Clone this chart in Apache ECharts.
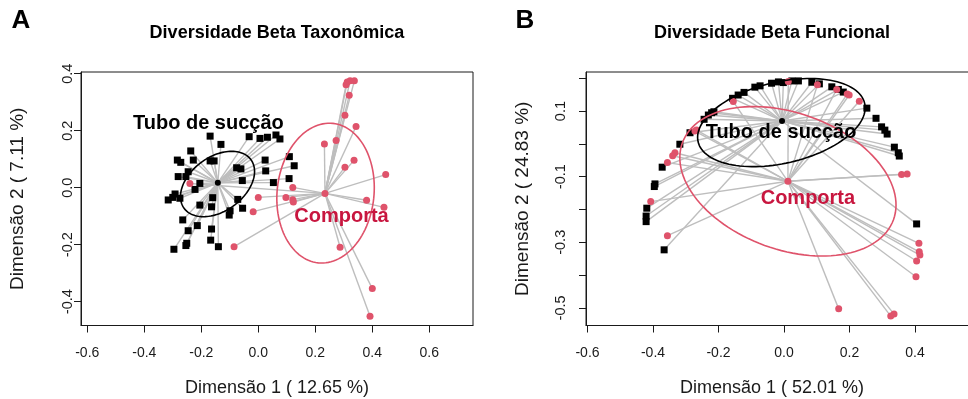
<!DOCTYPE html>
<html>
<head>
<meta charset="utf-8">
<script src="https://cdn.jsdelivr.net/npm/echarts@6/dist/echarts.min.js"></script>
<style>
  html, body { margin: 0; padding: 0; background: #fff; }
  #chart { width: 968px; height: 399px; }
</style>
</head>
<body>
<div id="chart"></div>
<script>
// ---- Painel A: diversidade beta taxonômica (PCoA) ----
const tuboA = [
  [-0.169, 0.181], [-0.131, 0.152], [-0.032, 0.179], [0.006, 0.173], [0.032, 0.177], [0.062, 0.185], [0.076, 0.171],
  [-0.237, 0.129], [-0.284, 0.097], [-0.272, 0.089], [-0.228, 0.097], [-0.169, 0.094], [-0.155, 0.094],
  [-0.246, 0.056], [-0.254, 0.039], [-0.281, 0.039], [-0.205, 0.015], [-0.222, -0.006],
  [-0.292, -0.022], [-0.316, -0.043], [-0.300, -0.034], [-0.275, -0.037], [-0.160, -0.035], [-0.205, -0.061], [-0.164, -0.067],
  [-0.265, -0.113], [-0.214, -0.133], [-0.246, -0.151], [-0.164, -0.145], [-0.251, -0.195], [-0.254, -0.203],
  [-0.296, -0.216], [-0.167, -0.184], [-0.140, -0.207],
  [-0.055, -0.072], [-0.072, -0.041], [-0.102, -0.096], [-0.099, -0.081],
  [-0.076, 0.070], [-0.061, 0.066], [-0.056, 0.025],
  [0.024, 0.097], [0.026, 0.059], [0.053, 0.018], [0.109, 0.109], [0.126, 0.077], [0.108, 0.032]
];
const comportaA = [
  [0.312, 0.371], [0.322, 0.375], [0.337, 0.375], [0.308, 0.361], [0.319, 0.324], [0.304, 0.254], [0.343, 0.215],
  [0.232, 0.153], [0.273, 0.166], [0.336, 0.096], [0.304, 0.072], [0.447, 0.046],
  [0.121, 0.001], [0.097, -0.034], [0.121, -0.042], [0.123, -0.050],
  [0.380, -0.044], [0.441, -0.069], [0.287, -0.209], [0.400, -0.354], [0.392, -0.451],
  [-0.240, 0.015], [0.000, -0.034], [-0.018, -0.084], [-0.085, -0.207]
];
const centroTuboA = [-0.142, 0.017];
const centroComportaA = [0.234, -0.020];
// elipses: [cx, cy, semi-eixo maior, semi-eixo menor, ângulo em graus]
const elipseTuboA = [-0.143, 0.013, 0.145, 0.095, 36];
const elipseComportaA = [0.236, -0.019, 0.246, 0.170, 84];
const rotulosA = [[-0.175, 0.226, 'Tubo de sucção'], [0.292, -0.101, 'Comporta']];

// ---- Painel B: diversidade beta funcional ----
const tuboB = [
  [-0.287, 0.034], [-0.244, 0.075], [-0.231, 0.088], [-0.221, 0.095], [-0.214, 0.098],
  [-0.157, 0.139], [-0.140, 0.149], [-0.122, 0.157], [-0.089, 0.173], [-0.073, 0.177],
  [-0.038, 0.185], [-0.017, 0.189], [-0.002, 0.187], [0.024, 0.192], [0.044, 0.192],
  [0.085, 0.188], [0.108, 0.183], [0.146, 0.174], [0.166, 0.166], [0.181, 0.158],
  [0.253, 0.109], [0.281, 0.078], [0.298, 0.052], [0.308, 0.042], [0.315, 0.030],
  [0.337, -0.010], [0.349, -0.027], [0.352, -0.037],
  [-0.318, -0.001], [-0.372, -0.071], [-0.396, -0.130], [-0.394, -0.122],
  [-0.419, -0.196], [-0.421, -0.220], [-0.421, -0.237], [-0.366, -0.323], [0.405, -0.244]
];
const comportaB = [
  [0.013, 0.190], [0.102, 0.180], [0.161, 0.166], [0.193, 0.152], [0.199, 0.149], [0.230, 0.130],
  [-0.155, 0.129], [-0.272, 0.039], [-0.267, 0.042], [-0.333, -0.027], [-0.340, -0.036], [-0.356, -0.057],
  [-0.407, -0.176], [-0.356, -0.280], [0.359, -0.093], [0.376, -0.092],
  [0.412, -0.303], [0.413, -0.329], [0.415, -0.339], [0.405, -0.357], [0.403, -0.405],
  [0.167, -0.503], [0.326, -0.525], [0.336, -0.519]
];
const centroTuboB = [-0.006, 0.070];
const centroComportaB = [0.012, -0.114];
const elipseTuboB = [-0.008, 0.065, 0.261, 0.124, 13];
const elipseComportaB = [0.012, -0.114, 0.343, 0.208, -20];
const rotulosB = [[-0.009, 0.036, 'Tubo de sucção'], [0.073, -0.166, 'Comporta']];

// ---- eixos ----
const xTicksA = [-0.6, -0.4, -0.2, 0.0, 0.2, 0.4, 0.6];
const yTicksA = [-0.4, -0.2, 0.0, 0.2, 0.4];
const xTicksB = [-0.6, -0.4, -0.2, 0.0, 0.2, 0.4];
const yTicksB = [-0.5, -0.4, -0.3, -0.2, -0.1, 0.0, 0.1, 0.2];
const yLabelsB = [-0.5, -0.3, -0.1, 0.1];

const FONT = "'Liberation Sans', Arial, Helvetica, sans-serif";
const RED = '#DF536B';
const RED_TEXT = '#C8163F';
const GRAY = '#BEBEBE';
const INK = '#1a1a1a';

const fmt = v => v.toFixed(1);

function xAxisCfg(grid, min, max, ticks, name, shift) {
  return {
    gridIndex: grid, type: 'value', min: min, max: max,
    name: name, nameLocation: 'middle', nameGap: 54,
    nameTextStyle: { fontFamily: FONT, fontSize: 18, color: INK, padding: [0, shift, 0, 0] },
    axisLine: { show: true, onZero: false, lineStyle: { color: INK, width: 1 } },
    axisTick: { show: true, length: 7, customValues: ticks, lineStyle: { color: INK } },
    axisLabel: { customValues: ticks, formatter: fmt, margin: 21, fontFamily: FONT, fontSize: 14, color: INK },
    splitLine: { show: false }
  };
}

function yAxisCfg(grid, min, max, ticks, labels, name, margin) {
  return {
    gridIndex: grid, type: 'value', min: min, max: max,
    name: name, nameLocation: 'middle', nameGap: 54, nameRotate: 90,
    nameTextStyle: { fontFamily: FONT, fontSize: 19, color: INK },
    axisLine: { show: true, onZero: false, lineStyle: { color: INK, width: 1 } },
    axisTick: { show: true, length: 7, customValues: ticks, lineStyle: { color: INK } },
    axisLabel: { customValues: labels, formatter: fmt, rotate: 90, margin: margin, fontFamily: FONT, fontSize: 14.5, color: INK },
    splitLine: { show: false }
  };
}

function segmentos(pontos, centro) {
  return pontos.map(p => ({ coords: [p, centro] }));
}

function renderElipse(params, api) {
  const c = api.coord([api.value(0), api.value(1)]);
  const rx = api.size([api.value(2), 0])[0];
  const ry = api.size([0, api.value(3)])[1];
  const th = api.value(4) * Math.PI / 180;
  const pts = [];
  for (let i = 0; i <= 120; i++) {
    const t = i / 120 * Math.PI * 2;
    const ex = rx * Math.cos(t), ey = ry * Math.sin(t);
    pts.push([c[0] + ex * Math.cos(th) - ey * Math.sin(th), c[1] - (ex * Math.sin(th) + ey * Math.cos(th))]);
  }
  return { type: 'polyline', shape: { points: pts }, style: { fill: null, stroke: api.visual('color'), lineWidth: 1.6 } };
}

function renderRotulo(params, api) {
  const c = api.coord([api.value(0), api.value(1)]);
  const d = params.dataIndex;
  return {
    type: 'text', x: c[0], y: c[1],
    style: {
      text: d === 0 ? 'Tubo de sucção' : 'Comporta',
      align: 'center', verticalAlign: 'middle',
      font: "bold 20px " + FONT,
      fill: d === 0 ? '#000' : RED_TEXT
    }
  };
}

function painel(g, tubo, comp, cTubo, cComp, eTubo, eComp, rotulos) {
  return [
    {
      type: 'lines', coordinateSystem: 'cartesian2d', xAxisIndex: g, yAxisIndex: g,
      data: segmentos(tubo, cTubo).concat(segmentos(comp, cComp)),
      lineStyle: { color: GRAY, width: 1.4, opacity: 1 }, z: 1, silent: true
    },
    {
      type: 'scatter', xAxisIndex: g, yAxisIndex: g, data: tubo,
      symbol: 'rect', symbolSize: 7, itemStyle: { color: '#000', opacity: 1 }, z: 3, silent: true
    },
    {
      type: 'scatter', xAxisIndex: g, yAxisIndex: g, data: comp,
      symbol: 'circle', symbolSize: 7, itemStyle: { color: RED, opacity: 1 }, z: 3, silent: true
    },
    {
      type: 'scatter', xAxisIndex: g, yAxisIndex: g, data: [cTubo],
      symbol: 'circle', symbolSize: 6, itemStyle: { color: '#000', opacity: 1 }, z: 4, silent: true
    },
    {
      type: 'scatter', xAxisIndex: g, yAxisIndex: g, data: [cComp],
      symbol: 'circle', symbolSize: 7, itemStyle: { color: RED, opacity: 1 }, z: 4, silent: true
    },
    {
      type: 'custom', xAxisIndex: g, yAxisIndex: g, renderItem: renderElipse,
      data: [eTubo], itemStyle: { color: '#000' }, z: 5, silent: true
    },
    {
      type: 'custom', xAxisIndex: g, yAxisIndex: g, renderItem: renderElipse,
      data: [eComp], itemStyle: { color: RED }, z: 5, silent: true
    },
    {
      type: 'custom', xAxisIndex: g, yAxisIndex: g, renderItem: renderRotulo,
      data: rotulos.map(r => [r[0], r[1]]), z: 6, silent: true
    }
  ];
}

const chart = echarts.init(document.getElementById('chart'), null, { renderer: 'canvas' });

const option = {
  animation: false,
  backgroundColor: '#fff',
  textStyle: { fontFamily: FONT },
  grid: [
    { left: 81, top: 72, width: 392, height: 253.5, show: true, borderColor: INK, borderWidth: 1,
      backgroundColor: 'transparent', outerBoundsMode: 'none' },
    { left: 586, top: 72, width: 392, height: 253.5, show: true, borderColor: INK, borderWidth: 1,
      backgroundColor: 'transparent', outerBoundsMode: 'none' }
  ],
  xAxis: [
    xAxisCfg(0, -0.622, 0.7533, xTicksA, 'Dimensão 1 ( 12.65 %)', 0),
    xAxisCfg(1, -0.6046, 0.5924, xTicksB, 'Dimensão 1 ( 52.01 %)', 20)
  ],
  yAxis: [
    yAxisCfg(0, -0.4835, 0.406, yTicksA, yTicksA, 'Dimensão 2 ( 7.11 %)', 6),
    yAxisCfg(1, -0.5537, 0.2192, yTicksB, yLabelsB, 'Dimensão 2 ( 24.83 %)', 18)
  ],
  graphic: [
    { type: 'text', x: 21, y: 21, style: { text: 'A', font: "bold 26px " + FONT, fill: '#000', align: 'center', verticalAlign: 'middle' } },
    { type: 'text', x: 525, y: 21, style: { text: 'B', font: "bold 26px " + FONT, fill: '#000', align: 'center', verticalAlign: 'middle' } },
    { type: 'text', x: 277, y: 33, style: { text: 'Diversidade Beta Taxonômica', font: "bold 18px " + FONT, fill: '#000', align: 'center', verticalAlign: 'middle' } },
    { type: 'text', x: 772, y: 33, style: { text: 'Diversidade Beta Funcional', font: "bold 18px " + FONT, fill: '#000', align: 'center', verticalAlign: 'middle' } }
  ],
  series: painel(0, tuboA, comportaA, centroTuboA, centroComportaA, elipseTuboA, elipseComportaA, rotulosA)
    .concat(painel(1, tuboB, comportaB, centroTuboB, centroComportaB, elipseTuboB, elipseComportaB, rotulosB))
};

chart.setOption(option);
</script>
</body>
</html>
